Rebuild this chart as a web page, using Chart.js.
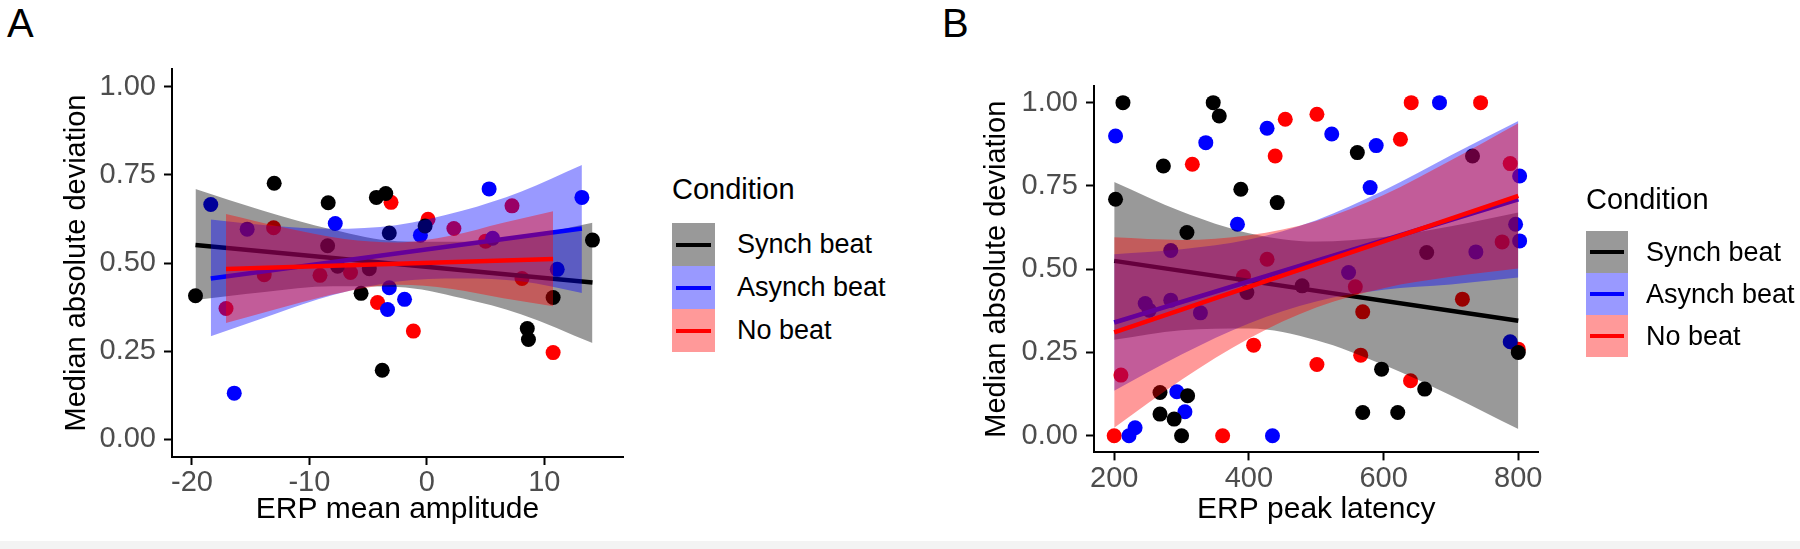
<!DOCTYPE html>
<html>
<head>
<meta charset="utf-8">
<script src="https://cdn.jsdelivr.net/npm/chart.js@4.4.1/dist/chart.umd.min.js"></script>
<style>
  html, body { margin: 0; padding: 0; background: #ffffff; }
  body { width: 1800px; height: 549px; position: relative; overflow: hidden;
         font-family: 'Liberation Sans', Arial, Helvetica, sans-serif; color: #000; }
  canvas { position: absolute; top: 0; }
  .tag { position: absolute; font-size: 40px; line-height: 40px; }
  .legend { position: absolute; }
  .legend .ttl { font-size: 29px; line-height: 29px; white-space: nowrap; }
  .legend .row { display: flex; align-items: center; }
  .legend .key { position: relative; flex: none; }
  .legend .key i { position: absolute; left: 4px; right: 4px; top: 50%; height: 4px; margin-top: -2px; }
  .legend .row span { font-size: 27px; line-height: 27px; white-space: nowrap; }
  .foot { position: absolute; left: 0; top: 541px; width: 1800px; height: 8px; background: #f3f3f3; }
</style>
</head>
<body>
<div class="tag" style="left:7px;top:3px;">A</div>
<div class="tag" style="left:942px;top:3px;">B</div>
<canvas id="chartA" width="640" height="549" style="left:0px;"></canvas>
<canvas id="chartB" width="860" height="549" style="left:940px;"></canvas>
<div class="legend" id="legA"></div>
<div class="legend" id="legB"></div>
<div class="foot"></div>
<script>
// ---------- shared ----------
const conditions   = ['Synch beat', 'Asynch beat', 'No beat'];
const pointColors  = ['#000000', '#0000ff', '#ff0000'];
const ribbonColors = ['rgba(0,0,0,0.4)', 'rgba(0,0,255,0.4)', 'rgba(255,0,0,0.4)'];
const keyColors    = ['#999999', '#9999ff', '#ff9999'];
const yTicks       = [0, 0.25, 0.5, 0.75, 1];
const yTickLabels  = ['0.00', '0.25', '0.50', '0.75', '1.00'];
const yTitle       = 'Median absolute deviation';
const legendTitle  = 'Condition';

// ---------- Panel A : ERP mean amplitude ----------
const ampXTicks      = [-20, -10, 0, 10];
const ampXTickLabels = ['-20', '-10', '0', '10'];
const ampTitle       = 'ERP mean amplitude';

const ampSynchX  = [-19.7, -13.0, -8.4, -8.45, -7.6, -4.9, -5.6, -4.3, -3.5, -3.2, -3.8, -0.15, 8.55, 8.65, 10.75, 14.1];
const ampSynchY  = [0.407, 0.726, 0.671, 0.549, 0.491, 0.484, 0.414, 0.686, 0.697, 0.585, 0.196, 0.605, 0.314, 0.283, 0.402, 0.565];
const ampAsyncX  = [-18.4, -16.4, -15.3, -7.8, -3.2, -3.35, -1.9, -0.55, 5.3, 5.6, 11.1, 13.2];
const ampAsyncY  = [0.666, 0.131, 0.596, 0.612, 0.430, 0.368, 0.397, 0.579, 0.710, 0.570, 0.482, 0.686];
const ampNoBeatX = [-17.1, -13.85, -13.05, -9.1, -6.5, -3.05, -4.2, -1.15, 0.1, 2.3, 5.0, 7.25, 8.1, 10.75];
const ampNoBeatY = [0.371, 0.467, 0.600, 0.465, 0.473, 0.672, 0.388, 0.307, 0.624, 0.598, 0.562, 0.662, 0.456, 0.246];

const ampSynchFitX  = [-19.7, 14.1];
const ampSynchFitY  = [0.551, 0.445];
const ampAsyncFitX  = [-18.4, 13.2];
const ampAsyncFitY  = [0.456, 0.598];
const ampNoBeatFitX = [-17.1, 10.75];
const ampNoBeatFitY = [0.483, 0.511];

const ampSynchBandX  = [-19.7, -14, -8, -2.5, 3, 8, 14.1];
const ampSynchBandLo = [0.395, 0.417, 0.434, 0.432, 0.400, 0.355, 0.273];
const ampSynchBandHi = [0.710, 0.649, 0.594, 0.562, 0.560, 0.573, 0.614];
const ampAsyncBandX  = [-18.4, -13, -8, -2.65, 3, 8, 13.2];
const ampAsyncBandLo = [0.292, 0.355, 0.409, 0.447, 0.456, 0.448, 0.415];
const ampAsyncBandHi = [0.623, 0.605, 0.597, 0.607, 0.648, 0.702, 0.778];
const ampNoBeatBandX  = [-17.1, -12, -7, -2.5, 2, 6.5, 10.75];
const ampNoBeatBandLo = [0.330, 0.377, 0.418, 0.438, 0.427, 0.400, 0.377];
const ampNoBeatBandHi = [0.639, 0.599, 0.568, 0.558, 0.577, 0.614, 0.647];

// ---------- Panel B : ERP peak latency ----------
const latXTicks      = [200, 400, 600, 800];
const latXTickLabels = ['200', '400', '600', '800'];
const latTitle       = 'ERP peak latency';

const latSynchX  = [213, 202, 273, 347, 356, 388, 308, 442, 561, 268, 309, 268, 289, 300, 397, 479, 664, 732, 597, 661, 569, 621, 800];
const latSynchY  = [1.00, 0.71, 0.81, 1.00, 0.96, 0.74, 0.61, 0.70, 0.85, 0.13, 0.12, 0.065, 0.05, 0.00, 0.43, 0.45, 0.55, 0.84, 0.20, 0.14, 0.07, 0.07, 0.25];
const latAsyncX  = [202, 336, 383, 284, 222, 231, 293, 305, 246, 252, 284, 328, 427, 523, 589, 580, 683, 548, 435, 802, 796, 802, 737, 788];
const latAsyncY  = [0.90, 0.88, 0.635, 0.556, 0.00, 0.024, 0.132, 0.072, 0.397, 0.377, 0.407, 0.369, 0.923, 0.906, 0.871, 0.745, 1.00, 0.49, 0.00, 0.78, 0.635, 0.585, 0.552, 0.282];
const latNoBeatX = [316, 200, 210, 361, 407, 392, 454, 501, 439, 625, 641, 427, 558, 569, 566, 501, 640, 744, 788, 776, 717, 800];
const latNoBeatY = [0.815, 0.00, 0.182, 0.00, 0.272, 0.478, 0.95, 0.965, 0.84, 0.89, 1.00, 0.53, 0.447, 0.372, 0.242, 0.214, 0.165, 1.00, 0.817, 0.582, 0.41, 0.26];

const latSynchFitX  = [200, 800];
const latSynchFitY  = [0.525, 0.345];
const latAsyncFitX  = [200, 800];
const latAsyncFitY  = [0.340, 0.710];
const latNoBeatFitX = [200, 800];
const latNoBeatFitY = [0.310, 0.720];

const latBandX        = [200, 300, 400, 500, 600, 700, 800];
const latSynchBandLo  = [0.288, 0.317, 0.322, 0.287, 0.213, 0.121, 0.020];
const latSynchBandHi  = [0.762, 0.673, 0.608, 0.583, 0.597, 0.629, 0.670];
const latAsyncBandLo  = [0.135, 0.244, 0.337, 0.403, 0.438, 0.454, 0.475];
const latAsyncBandHi  = [0.545, 0.560, 0.589, 0.647, 0.736, 0.842, 0.945];
const latNoBeatBandLo = [0.024, 0.168, 0.292, 0.385, 0.443, 0.477, 0.502];
const latNoBeatBandHi = [0.596, 0.588, 0.602, 0.645, 0.723, 0.827, 0.938];

// ---------- builder ----------
Chart.defaults.font.family = "'Liberation Sans', Arial, Helvetica, sans-serif";

const pts = (xs, ys) => xs.map((x, i) => ({ x: x, y: ys[i] }));

function buildDatasets(p) {
  const ds = [];
  for (let k = 0; k < 3; k++) {
    ds.push({
      type: 'scatter', label: conditions[k], data: pts(p.px[k], p.py[k]),
      backgroundColor: pointColors[k], borderWidth: 0, pointRadius: 7.5,
      pointHoverRadius: 7.5, order: 100 + k
    });
  }
  for (let k = 0; k < 3; k++) {
    ds.push({
      type: 'scatter', label: conditions[k] + ' CI high', data: pts(p.bx[k], p.bhi[k]),
      showLine: true, borderWidth: 0, borderColor: 'rgba(0,0,0,0)', pointRadius: 0,
      backgroundColor: ribbonColors[k], fill: '+1', cubicInterpolationMode: 'monotone',
      order: 50 - 10 * k
    });
    ds.push({
      type: 'scatter', label: conditions[k] + ' CI low', data: pts(p.bx[k], p.blo[k]),
      showLine: true, borderWidth: 0, borderColor: 'rgba(0,0,0,0)', pointRadius: 0,
      backgroundColor: 'rgba(0,0,0,0)', fill: false, cubicInterpolationMode: 'monotone',
      order: 50 - 10 * k
    });
    ds.push({
      type: 'scatter', label: conditions[k] + ' fit', data: pts(p.fx[k], p.fy[k]),
      showLine: true, borderWidth: 4.5, borderColor: pointColors[k], pointRadius: 0,
      backgroundColor: pointColors[k], fill: false, order: 45 - 10 * k
    });
  }
  return ds;
}

function makeChart(id, p) {
  return new Chart(document.getElementById(id), {
    type: 'scatter',
    data: { datasets: buildDatasets(p) },
    options: {
      responsive: false, animation: false, events: [],
      layout: { padding: { left: 0, top: p.top, right: p.right, bottom: 0 } },
      plugins: { legend: { display: false }, tooltip: { enabled: false } },
      scales: {
        x: {
          type: 'linear', min: p.xmin, max: p.xmax,
          afterBuildTicks: s => { s.ticks = p.xticks.map(v => ({ value: v })); },
          afterFit: s => { s.height = p.xAxisH; },
          ticks: { callback: (v, i) => p.xlabels[i], color: '#4d4d4d', font: { size: 29 },
                   padding: 1, maxRotation: 0, autoSkip: false },
          grid: { display: true, drawOnChartArea: false, drawTicks: true, tickLength: 8,
                  tickColor: '#000', tickWidth: 2, color: '#000' },
          border: { display: true, color: '#000', width: 2 },
          title: { display: true, text: p.xtitle, color: '#000',
                   font: { size: 30, lineHeight: 1.2 }, padding: { top: 0, bottom: 21 } }
        },
        y: {
          type: 'linear', min: -0.05, max: 1.05,
          afterBuildTicks: s => { s.ticks = yTicks.map(v => ({ value: v })); },
          afterFit: s => { s.width = p.yAxisW; },
          ticks: { callback: (v, i) => yTickLabels[i], color: '#4d4d4d', font: { size: 29 },
                   padding: 8, autoSkip: false },
          grid: { display: true, drawOnChartArea: false, drawTicks: true, tickLength: 8,
                  tickColor: '#000', tickWidth: 2, color: '#000' },
          border: { display: true, color: '#000', width: 2 },
          title: { display: true, text: yTitle, color: '#000',
                   font: { size: 29, lineHeight: 1.2 }, padding: { top: p.yTitlePad, bottom: 0 } }
        }
      }
    }
  });
}

makeChart('chartA', {
  px: [ampSynchX, ampAsyncX, ampNoBeatX], py: [ampSynchY, ampAsyncY, ampNoBeatY],
  fx: [ampSynchFitX, ampAsyncFitX, ampNoBeatFitX], fy: [ampSynchFitY, ampAsyncFitY, ampNoBeatFitY],
  bx: [ampSynchBandX, ampAsyncBandX, ampNoBeatBandX],
  blo: [ampSynchBandLo, ampAsyncBandLo, ampNoBeatBandLo],
  bhi: [ampSynchBandHi, ampAsyncBandHi, ampNoBeatBandHi],
  xmin: -21.7, xmax: 16.7, xticks: ampXTicks, xlabels: ampXTickLabels, xtitle: ampTitle,
  top: 69, right: 17, xAxisH: 92, yAxisW: 172, yTitlePad: 60
});

makeChart('chartB', {
  px: [latSynchX, latAsyncX, latNoBeatX], py: [latSynchY, latAsyncY, latNoBeatY],
  fx: [latSynchFitX, latAsyncFitX, latNoBeatFitX], fy: [latSynchFitY, latAsyncFitY, latNoBeatFitY],
  bx: [latBandX, latBandX, latBandX],
  blo: [latSynchBandLo, latAsyncBandLo, latNoBeatBandLo],
  bhi: [latSynchBandHi, latAsyncBandHi, latNoBeatBandHi],
  xmin: 170, xmax: 830, xticks: latXTicks, xlabels: latXTickLabels, xtitle: latTitle,
  top: 86, right: 261.5, xAxisH: 96.6, yAxisW: 154, yTitlePad: 40
});

// ---------- legends (HTML text) ----------
function buildLegend(id, cfg) {
  const el = document.getElementById(id);
  el.style.left = cfg.left + 'px';
  el.style.top = cfg.top + 'px';
  const t = document.createElement('div');
  t.className = 'ttl';
  t.textContent = legendTitle;
  t.style.marginBottom = cfg.gap + 'px';
  el.appendChild(t);
  conditions.forEach((name, k) => {
    const row = document.createElement('div');
    row.className = 'row';
    const key = document.createElement('div');
    key.className = 'key';
    key.style.width = cfg.keyW + 'px';
    key.style.height = cfg.keyH + 'px';
    key.style.background = keyColors[k];
    const ln = document.createElement('i');
    ln.style.background = pointColors[k];
    key.appendChild(ln);
    const lab = document.createElement('span');
    lab.textContent = name;
    lab.style.marginLeft = cfg.labGap + 'px';
    row.appendChild(key);
    row.appendChild(lab);
    el.appendChild(row);
  });
}
buildLegend('legA', { left: 672, top: 174.5, gap: 19.5, keyW: 43, keyH: 43, labGap: 22 });
buildLegend('legB', { left: 1586, top: 184.5, gap: 17.5, keyW: 42, keyH: 42, labGap: 18 });
</script>
</body>
</html>
